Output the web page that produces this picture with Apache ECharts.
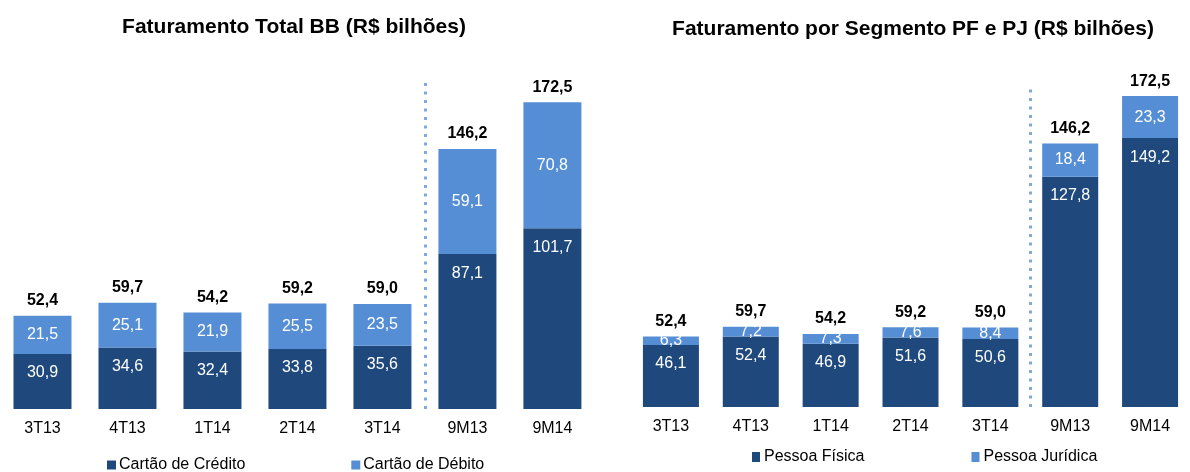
<!DOCTYPE html>
<html>
<head>
<meta charset="utf-8">
<title>Faturamento BB</title>
<script src="https://cdn.jsdelivr.net/npm/echarts@6/dist/echarts.min.js"></script>
<style>
  html, body { margin: 0; padding: 0; background: #fff; }
  #chart { width: 1190px; height: 472px; }
</style>
</head>
<body>
<div id="chart"></div>
<script>
  const categories = ["3T13", "4T13", "1T14", "2T14", "3T14", "9M13", "9M14"];

  // Faturamento Total BB
  const credito = [30.9, 34.6, 32.4, 33.8, 35.6, 87.1, 101.7];
  const debito = [21.5, 25.1, 21.9, 25.5, 23.5, 59.1, 70.8];
  const totalBB = [52.4, 59.7, 54.2, 59.2, 59.0, 146.2, 172.5];

  // Faturamento por Segmento PF e PJ
  const pessoaFisica = [46.1, 52.4, 46.9, 51.6, 50.6, 127.8, 149.2];
  const pessoaJuridica = [6.3, 7.2, 7.3, 7.6, 8.4, 18.4, 23.3];
  const totalSeg = [52.4, 59.7, 54.2, 59.2, 59.0, 146.2, 172.5];

  const quarterCount = 5; // first five are quarters, rest are 9M accumulations

  const dark = "#1F497D";
  const light = "#558ED5";
  const dotColor = "#80aadf";
  const font = "'Liberation Sans', Arial, sans-serif";

  function br(v) {
    return Number(v).toFixed(1).replace(".", ",");
  }

  function onlyQuarters(arr) {
    return arr.map((v, i) => (i < quarterCount ? v : "-"));
  }

  function only9M(arr) {
    return arr.map((v, i) => (i >= quarterCount ? v : "-"));
  }

  function xAxisFor(gridIndex) {
    return {
      type: "category",
      gridIndex,
      data: categories,
      axisLine: { show: false },
      axisTick: { show: false },
      axisLabel: { fontSize: 16, color: "#000", fontFamily: font, margin: 12 },
      splitLine: { show: false }
    };
  }

  // hidden value axis spanning the categories, used only to place the divider
  function dividerAxis(gridIndex) {
    return { type: "value", gridIndex, min: 0, max: categories.length, show: false, splitLine: { show: false } };
  }

  function yAxisFor(gridIndex, max) {
    return { type: "value", gridIndex, min: 0, max, show: false, splitLine: { show: false } };
  }

  function divider(xIdx, yIdx) {
    return {
      type: "scatter",
      xAxisIndex: xIdx,
      yAxisIndex: yIdx,
      data: [],
      silent: true,
      markLine: {
        silent: true,
        symbol: "none",
        label: { show: false },
        lineStyle: { color: dotColor, width: 3, type: [3, 5.5], opacity: 1 },
        data: [{ xAxis: quarterCount }]
      }
    };
  }

  function segment(name, data, color, labelPos, xIdx, yIdx, stack, barWidth) {
    return {
      name,
      type: "bar",
      xAxisIndex: xIdx,
      yAxisIndex: yIdx,
      stack,
      data,
      barWidth,
      barGap: "-100%",
      itemStyle: { color },
      label: {
        show: true,
        position: labelPos,
        distance: labelPos === "insideTop" ? 11 : 5,
        color: "#fff",
        fontSize: 16,
        fontFamily: font,
        formatter: (p) => br(p.value)
      }
    };
  }

  function totals(name, data, xIdx, yIdx, barWidth) {
    return {
      name,
      type: "bar",
      xAxisIndex: xIdx,
      yAxisIndex: yIdx,
      data,
      barWidth,
      barGap: "-100%",
      itemStyle: { color: "transparent" },
      label: {
        show: true,
        position: "top",
        distance: 7,
        color: "#000",
        fontSize: 16,
        fontWeight: "bold",
        fontFamily: font,
        formatter: (p) => br(p.value)
      },
      z: 1
    };
  }

  const chart = echarts.init(document.getElementById("chart"), null, { renderer: "canvas" });

  chart.setOption({
    animation: false,
    backgroundColor: "#fff",
    title: [
      {
        text: "Faturamento Total BB (R$ bilhões)",
        left: 289,
        top: 12,
        textAlign: "center",
        textStyle: { fontSize: 21, fontWeight: "bold", color: "#000", fontFamily: font }
      },
      {
        text: "Faturamento por Segmento PF e PJ (R$ bilhões)",
        left: 908,
        top: 14,
        textAlign: "center",
        textStyle: { fontSize: 21, fontWeight: "bold", color: "#000", fontFamily: font }
      }
    ],
    legend: [
      {
        data: ["Cartão de Crédito", "Cartão de Débito"],
        left: 102,
        top: 452,
        icon: "rect",
        itemWidth: 9,
        itemHeight: 9,
        itemGap: 106,
        textStyle: { fontSize: 16, color: "#000", fontFamily: font, padding: [0, 0, 0, -2] }
      },
      {
        data: ["Pessoa Física", "Pessoa Jurídica"],
        left: 747,
        top: 444,
        icon: "rect",
        itemWidth: 8,
        itemHeight: 10,
        itemGap: 107,
        textStyle: { fontSize: 16, color: "#000", fontFamily: font, padding: [0, 0, 0, -1] }
      }
    ],
    grid: [
      { left: -4.3, width: 599.2, top: 80, bottom: 63 },
      { left: 631, width: 574, top: 88, bottom: 65 }
    ],
    xAxis: [xAxisFor(0), xAxisFor(1), dividerAxis(0), dividerAxis(1)],
    yAxis: [yAxisFor(0, 185), yAxisFor(1, 237), yAxisFor(1, 177)],
    series: [
      divider(2, 0),
      divider(3, 1),

      totals("Total BB", totalBB, 0, 0, 58),
      segment("Cartão de Crédito", credito, dark, "insideTop", 0, 0, "bb", 58),
      segment("Cartão de Débito", debito, light, "inside", 0, 0, "bb", 58),

      totals("Total trimestre", onlyQuarters(totalSeg), 1, 1, 56),
      totals("Total 9M", only9M(totalSeg), 1, 2, 56),
      segment("Pessoa Física", onlyQuarters(pessoaFisica), dark, "insideTop", 1, 1, "q", 56),
      segment("Pessoa Jurídica", onlyQuarters(pessoaJuridica), light, "inside", 1, 1, "q", 56),
      segment("Pessoa Física", only9M(pessoaFisica), dark, "insideTop", 1, 2, "m", 56),
      segment("Pessoa Jurídica", only9M(pessoaJuridica), light, "inside", 1, 2, "m", 56)
    ]
  });

  window.addEventListener("resize", () => chart.resize());
</script>
</body>
</html>
